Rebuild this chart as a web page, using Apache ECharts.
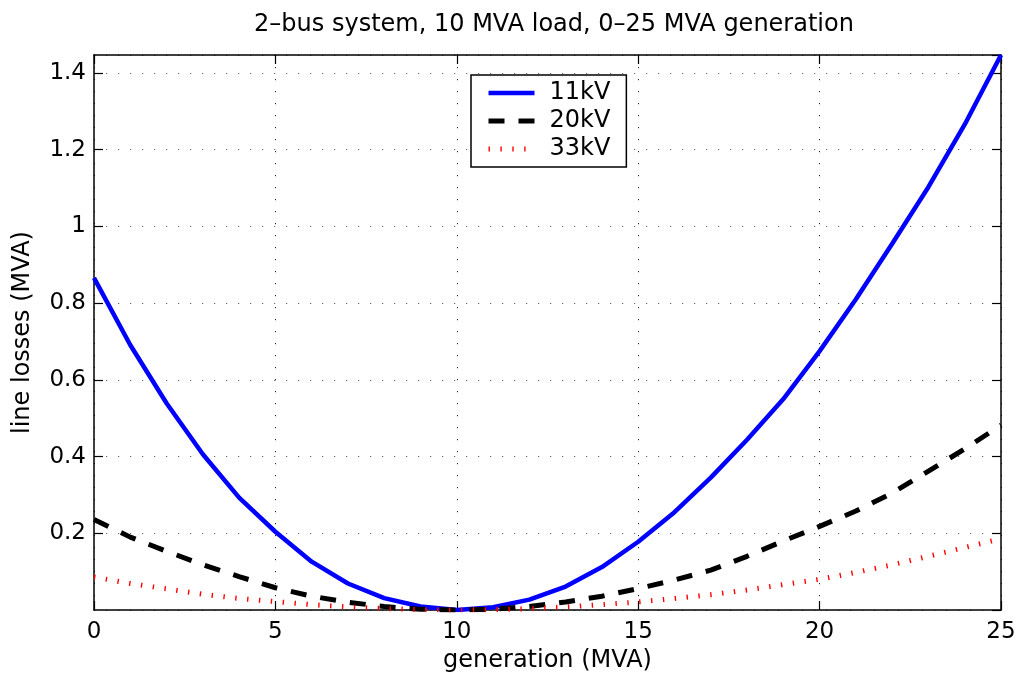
<!DOCTYPE html>
<html>
<head>
<meta charset="utf-8">
<script src="https://cdn.jsdelivr.net/npm/echarts@6/dist/echarts.min.js"></script>
<style>
  html, body { margin: 0; padding: 0; background: #fff; }
  #chart { width: 1019px; height: 682px; }
</style>
</head>
<body>
<div id="chart"></div>
<script>
// Generation output of the second bus (MVA)
const generation = [0, 1, 2, 3, 4, 5, 6, 7, 8, 9, 10, 11, 12, 13, 14, 15, 16, 17, 18, 19, 20, 21, 22, 23, 24, 25];

// Line losses (MVA) for three nominal line voltages
const losses11kV = [0.866, 0.691, 0.539, 0.406, 0.293, 0.204, 0.126, 0.069, 0.031, 0.009, 0.000, 0.007, 0.027, 0.061, 0.112, 0.178, 0.255, 0.345, 0.444, 0.550, 0.675, 0.810, 0.955, 1.103, 1.266, 1.447];
const losses20kV = [0.236, 0.190, 0.153, 0.118, 0.087, 0.058, 0.036, 0.020, 0.009, 0.002, 0.000, 0.002, 0.009, 0.021, 0.036, 0.056, 0.078, 0.104, 0.140, 0.180, 0.218, 0.258, 0.305, 0.362, 0.420, 0.482];
const losses33kV = [0.086, 0.069, 0.055, 0.041, 0.030, 0.022, 0.014, 0.008, 0.004, 0.001, 0.000, 0.001, 0.003, 0.008, 0.014, 0.021, 0.030, 0.040, 0.052, 0.066, 0.080, 0.098, 0.118, 0.140, 0.163, 0.186];

const seriesNames = ['11kV', '20kV', '33kV'];
const titleText = '2\u2013bus system, 10 MVA load, 0\u201325 MVA generation';
const xAxisTitle = 'generation (MVA)';
const yAxisTitle = 'line losses (MVA)';

const FONT = '"DejaVu Sans", "Liberation Sans", Arial, sans-serif';
const pairs = (ys) => generation.map((g, i) => [g, ys[i]]);

const chart = echarts.init(document.getElementById('chart'), null, { renderer: 'canvas' });

// Full box around the plot: axis lines on all four sides with inward ticks
const boxAxis = {
  axisLine: { show: true, onZero: false, lineStyle: { color: '#000', width: 1.5 } },
  axisTick: { show: true, inside: true, length: 9, lineStyle: { color: '#000', width: 1.2 } }
};

chart.setOption({
  animation: false,
  backgroundColor: '#fff',
  title: {
    text: titleText,
    left: 549,
    top: 8,
    textAlign: 'center',
    textStyle: { fontFamily: FONT, fontSize: 24, fontWeight: 'normal', color: '#000' }
  },
  grid: { left: 94, right: 18, top: 55, bottom: 72, containLabel: false },
  legend: {
    orient: 'vertical',
    left: 471,
    top: 75,
    backgroundColor: '#fff',
    borderColor: '#000',
    borderWidth: 1.5,
    padding: [6, 16, 6, 15],
    itemWidth: 46,
    itemHeight: 26,
    itemGap: 4,
    itemStyle: { opacity: 0 },
    lineStyle: { width: 'inherit' },
    textStyle: { fontFamily: FONT, fontSize: 24, color: '#000', padding: [0, 0, 0, 10] },
    data: seriesNames
  },
  xAxis: [
    Object.assign({
      type: 'value', min: 0, max: 25, interval: 5, position: 'bottom',
      name: xAxisTitle, nameLocation: 'middle', nameGap: 37,
      nameTextStyle: { fontFamily: FONT, fontSize: 24, color: '#000' },
      axisLabel: { fontFamily: FONT, fontSize: 23, color: '#000', margin: 11 },
      splitLine: { show: true, lineStyle: { color: '#222', width: 1, type: [1.2, 10.8] } }
    }, boxAxis),
    Object.assign({
      type: 'value', min: 0, max: 25, interval: 5, position: 'top',
      axisLabel: { show: false }, splitLine: { show: false }
    }, boxAxis)
  ],
  yAxis: [
    Object.assign({
      type: 'value', min: 0, max: 1.447, interval: 0.2, position: 'left',
      name: yAxisTitle, nameLocation: 'middle', nameGap: 59,
      nameTextStyle: { fontFamily: FONT, fontSize: 24, color: '#000' },
      axisLabel: { fontFamily: FONT, fontSize: 23, color: '#000', margin: 8, showMinLabel: false, showMaxLabel: false },
      splitLine: { show: true, lineStyle: { color: '#666', width: 1, type: [1.2, 10.8] } }
    }, boxAxis),
    Object.assign({
      type: 'value', min: 0, max: 1.447, interval: 0.2, position: 'right',
      axisLabel: { show: false }, splitLine: { show: false }
    }, boxAxis)
  ],
  series: [
    {
      name: seriesNames[0], type: 'line', data: pairs(losses11kV),
      showSymbol: false, symbol: 'none', clip: true,
      lineStyle: { color: '#0000ff', width: 4.5 },
      itemStyle: { color: '#0000ff' }, z: 3
    },
    {
      name: seriesNames[1], type: 'line', data: pairs(losses20kV),
      showSymbol: false, symbol: 'none', clip: true,
      lineStyle: { color: '#000', width: 5, type: [16, 14] },
      itemStyle: { color: '#000' }, z: 4
    },
    {
      name: seriesNames[2], type: 'line', data: pairs(losses33kV),
      showSymbol: false, symbol: 'none', clip: true,
      lineStyle: { color: '#ff0000', width: 5, type: [1.4, 10.5] },
      itemStyle: { color: '#ff0000' }, z: 5
    }
  ]
});
</script>
</body>
</html>
